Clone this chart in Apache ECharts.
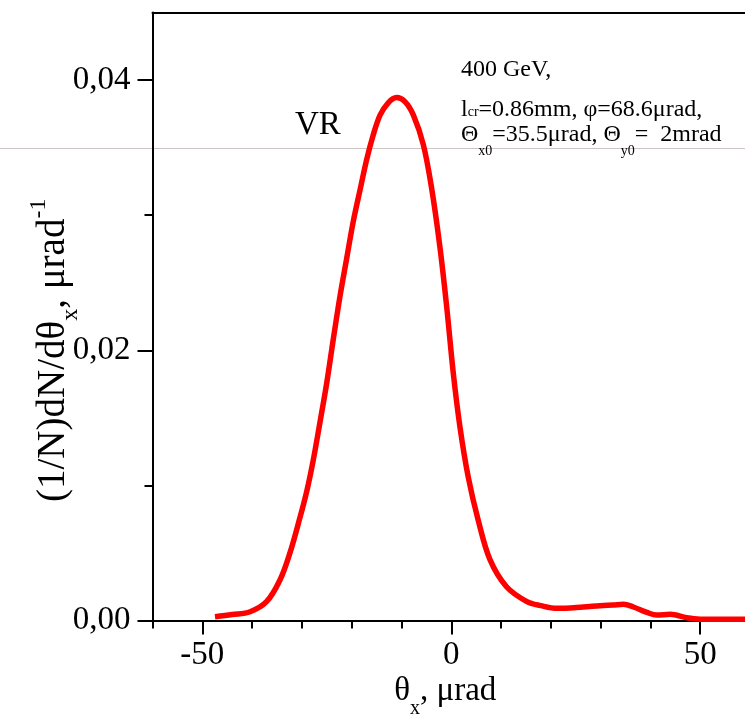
<!DOCTYPE html>
<html>
<head>
<meta charset="utf-8">
<script src="https://cdn.jsdelivr.net/npm/echarts@6/dist/echarts.min.js"></script>
<style>html,body{margin:0;padding:0;background:#fff;}#c{width:745px;height:717px;}#e{position:absolute;left:160px;top:300px;width:560px;font:10px monospace;color:#00f;white-space:pre-wrap;}</style>
</head>
<body>
<div id="c"></div>
<div id="e"></div>
<script>
// ---- data ----
const thetaX = [-47.45,-44.0,-40.4,-37.1,-34.4,-32.4,-30.4,-29.0,-27.7,-26.4,-25.0,-23.7,-22.3,-21.0,-19.7,-18.3,-17.0,-15.7,-14.3,-12.7,-11.0,-9.3,-7.6,-5.6,-3.9,-2.26,-0.91,0.41,1.76,3.42,5.43,7.78,11.1,15.2,18.0,21.2,26.5,29.9,32.5,34.6,36.6,39.3,41.3,44.0,47.3,50.0,55.0,60.0];
const density = [0.00028,0.00044,0.00065,0.00139,0.0030,0.0050,0.0076,0.0096,0.0119,0.0146,0.0176,0.0208,0.0241,0.0268,0.0295,0.0319,0.0341,0.0359,0.0374,0.0383,0.0387,0.0384,0.0374,0.0352,0.0319,0.0276,0.0232,0.0183,0.0143,0.0106,0.0074,0.0045,0.0025,0.0014,0.0011,0.0009,0.0010,0.0011,0.00115,0.0012,0.0010,0.0006,0.0004,0.00046,0.0002,0.0001,0.0001,0.0001];
const xMajorTicks = [-50, 0, 50];
const yTickLabels = ['0,00','0,02','0,04'];
const annotation = ['400 GeV,'];
const peakLabel = 'VR';

const FONT = '"Liberation Serif", "Times New Roman", serif';
const chart = echarts.init(document.getElementById('c'), null, {renderer: 'canvas'});

const L = 152.5, R = -5, T = 12.5, B = 96.5;
const yTop04 = 80.1;

const seriesData = thetaX.map((x, i) => [x, density[i]]);
const hiddenAxis = {type: 'value', axisLine: {show: false}, axisTick: {show: false}, axisLabel: {show: false}, splitLine: {show: false}};

const option = {
  backgroundColor: '#fff',
  animation: false,
  grid: [
    {left: L, right: R, top: T, bottom: B, containLabel: false, outerBoundsMode: 'none'},
    {left: 202.3, right: 44.8, top: T, bottom: B, containLabel: false, outerBoundsMode: 'none'},
    {left: L, right: R, top: yTop04, bottom: B, containLabel: false, outerBoundsMode: 'none'}
  ],
  xAxis: [
    {gridIndex: 0, type: 'value', min: -60, max: 60, interval: 10,
     axisLine: {show: true, onZero: false, lineStyle: {color: '#000', width: 2}},
     axisTick: {show: true, inside: false, length: 8, lineStyle: {color: '#000', width: 2}},
     axisLabel: {show: false}, splitLine: {show: false}},
    {gridIndex: 0, type: 'value', position: 'top', min: -60, max: 60,
     axisLine: {show: true, onZero: false, lineStyle: {color: '#000', width: 2}},
     axisTick: {show: false}, axisLabel: {show: false}, splitLine: {show: false}},
    {gridIndex: 1, type: 'value', min: xMajorTicks[0], max: xMajorTicks[2], interval: 50,
     axisLine: {show: false, onZero: false},
     axisTick: {show: true, inside: false, length: 14, lineStyle: {color: '#000', width: 2}},
     axisLabel: {show: true, margin: 18, color: '#000', fontFamily: FONT, fontSize: 33,
       formatter: v => (xMajorTicks.indexOf(v) >= 0 ? String(v) : '')},
     splitLine: {show: false},
     name: '{m|θ}{s|x}{m|, μrad}', nameLocation: 'middle', nameGap: 53, nameMoveOverlap: false,
     nameTextStyle: {color: '#000', fontFamily: FONT, fontSize: 33, padding: [0, 12, 0, 0],
       rich: {m: {fontFamily: FONT, fontSize: 33, lineHeight: 36, color: '#000'},
              s: {fontFamily: FONT, fontSize: 20, lineHeight: 20, padding: [34,0,0,0], color: '#000'}}}},
    Object.assign({gridIndex: 2, min: -60, max: 60}, hiddenAxis)
  ],
  yAxis: [
    {gridIndex: 0, type: 'value', min: 0, max: 0.045,
     axisLine: {show: true, onZero: false, lineStyle: {color: '#000', width: 2}},
     axisTick: {show: false}, axisLabel: {show: false}, splitLine: {show: false}},
    Object.assign({gridIndex: 1, min: 0, max: 0.045}, hiddenAxis),
    {gridIndex: 2, type: 'value', min: 0, max: 0.04, interval: 0.02,
     axisLine: {show: false, onZero: false},
     axisTick: {show: true, inside: false, length: 15, lineStyle: {color: '#000', width: 2}},
     minorTick: {show: true, splitNumber: 2, length: 8, lineStyle: {color: '#000', width: 2}},
     axisLabel: {show: true, margin: 22, color: '#000', fontFamily: FONT, fontSize: 33,
       formatter: (v) => yTickLabels[Math.round(v / 0.02)] || ''},
     splitLine: {show: false},
     name: '{m|(1/N)dN/dθ}{s|x}{m|, μrad}{p|-1}', nameLocation: 'middle', nameGap: 78, nameRotate: 90,
     nameMoveOverlap: false,
     nameTextStyle: {color: '#000', fontFamily: FONT, fontSize: 39,
       rich: {m: {fontFamily: FONT, fontSize: 39, lineHeight: 42, color: '#000'},
              s: {fontFamily: FONT, fontSize: 24, lineHeight: 24, padding: [34,0,0,0], color: '#000'},
              p: {fontFamily: FONT, fontSize: 24, lineHeight: 24, padding: [0,0,30,0], color: '#000'}}}}
  ],
  series: [{
    type: 'line', xAxisIndex: 0, yAxisIndex: 0, data: seriesData,
    smooth: 0.35, showSymbol: false, symbol: 'none',
    lineStyle: {color: '#ff0000', width: 5.5}, clip: true, z: 3
  }],
  graphic: [
    {type: 'line', z: -1, shape: {x1: 0, y1: 148.5, x2: 745, y2: 148.5},
     style: {stroke: '#cdc4c4', lineWidth: 1}},
    {type: 'text', left: 295, top: 109, z: 5,
     style: {text: peakLabel, font: '33px ' + FONT, fill: '#000'}},
    {type: 'text', left: 461, top: 58, z: 5,
     style: {text: annotation[0], font: '24px ' + FONT, fill: '#000'}},
    {type: 'text', left: 461, top: 98, z: 5,
     style: {text: '{m|l}{s|cr}{m|=0.86mm, φ=68.6μrad,}', fill: '#000',
       rich: {m: {fontFamily: FONT, fontSize: 24, lineHeight: 25, fill: '#000'},
              s: {fontFamily: FONT, fontSize: 14, lineHeight: 14, padding: [5,0,0,0], fill: '#000'}}}},
    {type: 'text', left: 461, top: 112, z: 5,
     style: {text: '{m|Θ}{s|x0}{m|=35.5μrad, Θ}{s|y0}{m|=  2mrad}', fill: '#000',
       rich: {m: {fontFamily: FONT, fontSize: 24, lineHeight: 25, fill: '#000'},
              s: {fontFamily: FONT, fontSize: 14, lineHeight: 14, padding: [32,0,0,0], fill: '#000'}}}}
  ]
};
try { chart.setOption(option); }
catch (e) { document.getElementById('e').textContent = (e.stack || e).toString().slice(0, 600); }
</script>
</body>
</html>
